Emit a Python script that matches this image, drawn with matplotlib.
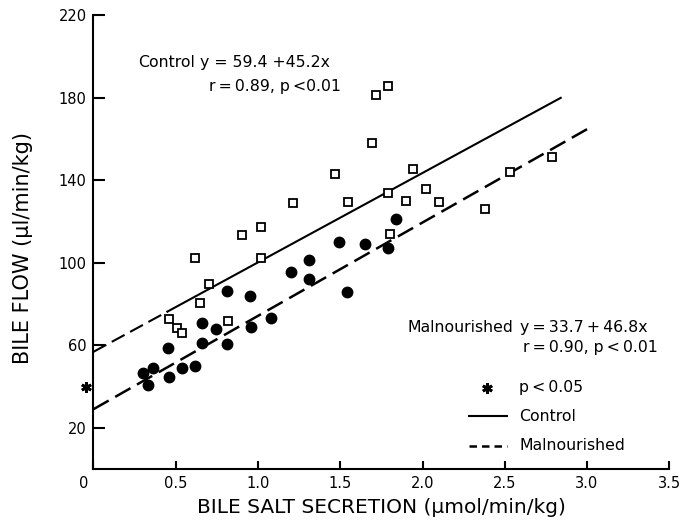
import matplotlib
matplotlib.use('Agg')
import matplotlib.pyplot as plt
import matplotlib.transforms as mtransforms
import numpy as np

plt.rcParams['font.family'] = ['DejaVu Sans']

# control rats (open squares)
ctrl_x = [0.46, 0.51, 0.54, 0.62, 0.65, 0.70, 0.82, 0.90, 1.02, 1.02, 1.21, 1.47, 1.55,
          1.69, 1.72, 1.79, 1.79, 1.80, 1.90, 1.94, 2.02, 2.10, 2.38, 2.53, 2.79]
ctrl_y = [72.8, 68.6, 65.9, 102.3, 80.7, 89.6, 72.0, 113.4, 117.2, 102.3, 128.9, 143.0, 129.6,
          158.2, 181.3, 185.5, 133.6, 113.9, 130.1, 145.4, 135.7, 129.6, 126.2, 144.1, 151.2]

# malnourished rats (filled circles)
maln_x = [0.30, 0.33, 0.36, 0.455, 0.46, 0.54, 0.62, 0.66, 0.66, 0.745, 0.81, 0.81,
          0.95, 0.956, 1.08, 1.20, 1.31, 1.31, 1.49, 1.54, 1.65, 1.79, 1.84]
maln_y = [46.5, 40.8, 48.9, 58.9, 44.8, 48.9, 50.0, 61.0, 71.0, 68.1, 86.5, 60.7,
          84.1, 69.1, 73.3, 95.4, 101.4, 92.2, 110.1, 85.7, 109.0, 107.0, 121.4]

# regression lines as drawn (intercept, slope, x range)
ctrl_line = (56.9, 43.3)
ctrl_extrap_x = [0.0, 0.45]
ctrl_fit_x = [0.45, 2.84]
maln_line = (29.1, 45.2)
maln_fit_x = [0.0, 3.0]

# asterisk on y axis (intercept difference, p<0.05)
star_y = 40.0

xticks = [0, 0.5, 1.0, 1.5, 2.0, 2.5, 3.0, 3.5]
xtick_labels = ['0', '0.5', '1.0', '1.5', '2.0', '2.5', '3.0', '3.5']
yticks = [20, 60, 100, 140, 180, 220]

fig = plt.figure(figsize=(6.94, 5.2), dpi=100)
ax = fig.add_axes([0.1347, 0.0975, 0.8297, 0.8737])

lw = 1.5
dash = (0, (7, 3))
ts = '\u2009'  # thin space

# lines
cx = np.array(ctrl_extrap_x)
ax.plot(cx, ctrl_line[0] + ctrl_line[1] * cx, color='black', lw=lw, linestyle=dash)
cx = np.array(ctrl_fit_x)
ax.plot(cx, ctrl_line[0] + ctrl_line[1] * cx, color='black', lw=lw)
mx = np.array(maln_fit_x)
ax.plot(mx, maln_line[0] + maln_line[1] * mx, color='black', lw=1.8, linestyle=dash)

# points
ax.plot(ctrl_x, ctrl_y, linestyle='none', marker='s', markersize=5.5,
        markerfacecolor='white', markeredgecolor='black', markeredgewidth=1.3, zorder=3)
ax.plot(maln_x, maln_y, linestyle='none', marker='o', markersize=7.5,
        color='black', zorder=3)

ax.plot([-0.045], [star_y], linestyle='none', marker=(6, 2, 0), markersize=7.5,
        markeredgewidth=2, color='black', clip_on=False)

# equations
fs = 11.3
ax.text(0.27, 196.8, 'Control', fontsize=fs, va='center')
ax.text(0.647, 196.8, 'y = 59.4 +45.2x', fontsize=fs, va='center')
ax.text(0.70, 185.6, f'r{ts}={ts}0.89, p{ts}<0.01', fontsize=fs, va='center')
ax.text(1.906, 68.9, 'Malnourished', fontsize=fs, va='center')
ax.text(2.593, 68.9, f'y{ts}={ts}33.7{ts}+{ts}46.8x', fontsize=fs, va='center')
ax.text(2.611, 59.2, f'r{ts}={ts}0.90, p{ts}<{ts}0.01', fontsize=fs, va='center')

# key
ax.plot([2.392], [39.4], linestyle='none', marker=(6, 2, 0), markersize=7.5,
        markeredgewidth=2, color='black')
ax.text(2.587, 39.4, f'p{ts}<{ts}0.05', fontsize=fs, va='center')
ax.plot([2.28, 2.515], [25.8, 25.8], color='black', lw=lw)
ax.text(2.587, 25.8, 'Control', fontsize=fs, va='center')
ax.plot([2.28, 2.515], [11.3, 11.3], color='black', lw=1.8, linestyle=(0, (3, 2)))
ax.text(2.587, 11.3, 'Malnourished', fontsize=fs, va='center')

ax.set_xlim(0, 3.5)
ax.set_ylim(0, 220)
ax.set_xticks(xticks)
ax.set_xticklabels(xtick_labels)
ax.set_yticks(yticks)
ax.spines['top'].set_visible(False)
ax.spines['right'].set_visible(False)
for s in ('left', 'bottom'):
    ax.spines[s].set_linewidth(1.5)
ax.tick_params(axis='y', direction='in', length=8.5, width=1.5, pad=5, labelsize=10.5)
ax.tick_params(axis='x', direction='in', length=6, width=1.5, pad=5, labelsize=10.5)
lab0 = ax.get_xticklabels()[0]
lab0.set_transform(lab0.get_transform() + mtransforms.ScaledTranslation(-7 / 72, 0, fig.dpi_scale_trans))

ax.set_xlabel('BILE SALT SECRETION (µmol/min/kg)', fontsize=14.5, labelpad=5)
ax.set_ylabel('BILE FLOW (µl/min/kg)', fontsize=15)
ax.yaxis.set_label_coords(-0.105, 0.487)

fig.savefig('out.png', dpi=100)
